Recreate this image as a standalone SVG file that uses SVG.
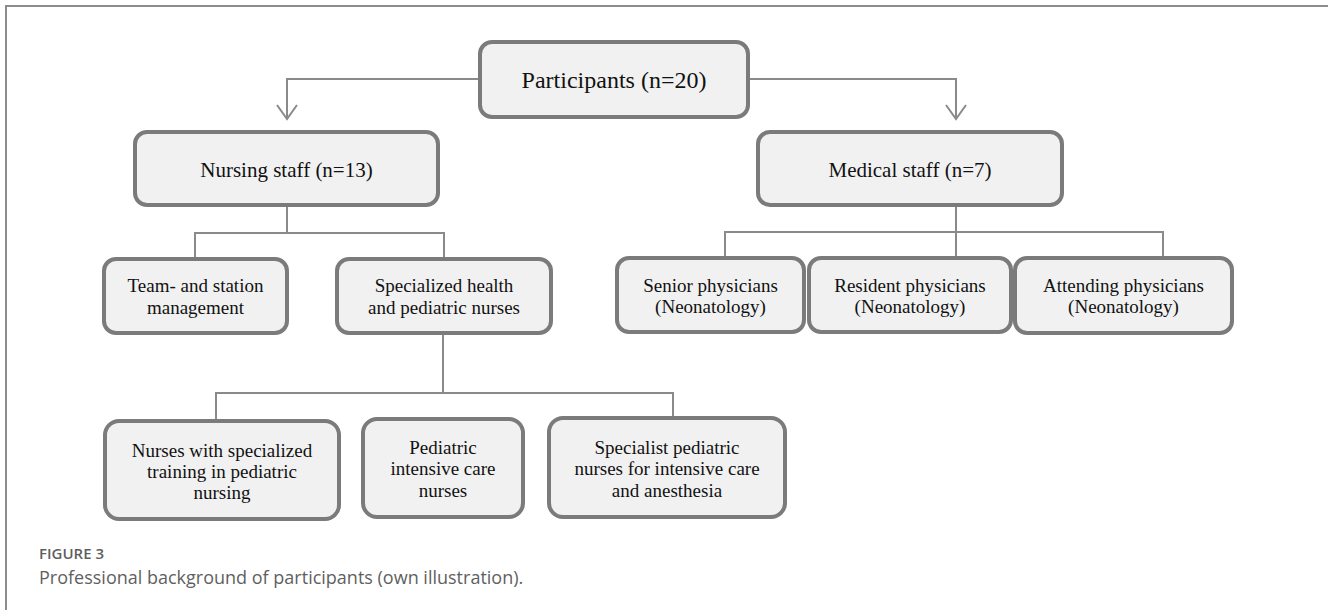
<svg xmlns="http://www.w3.org/2000/svg" width="1328" height="610" viewBox="0 0 1328 610">
<style>
.box{fill:#f1f1f1;stroke:#7b7b7b;stroke-width:4}
.t{font-family:"Liberation Serif","Times New Roman",serif;fill:#111;text-anchor:middle}
.t24{font-size:24px}.t21{font-size:21px}.t19{font-size:19px}
.c{fill:none;stroke:#8a8a8a;stroke-width:2}
.frame{fill:none;stroke:#8c8c8c;stroke-width:2}
.cap{font-family:"Open Sans","Liberation Sans",sans-serif;fill:#5f5f5f}
</style>
<rect x="0" y="0" width="1328" height="610" fill="#fff"/>
<path class="frame" d="M6,610 V6 H1328"/>
<g id="connectors">
<path class="c" d="M480,79 H287 V119 M277,105 L287,119 L297,105"/>
<path class="c" d="M748,79 H956 V119 M946,105 L956,119 L966,105"/>
<path class="c" d="M287,205 V233 M195,259 V233 H444 V259"/>
<path class="c" d="M443,333 V393 M216,421 V393 H673 V418"/>
<path class="c" d="M956,205 V258 M725,258 V232 H1163 V258"/>
</g>
<g id="participants">
<rect class="box" x="480" y="42" width="268" height="75" rx="12"/>
<text class="t t24" x="614" y="88">Participants (n=20)</text>
</g>
<g id="nursing">
<rect class="box" x="135" y="132" width="303" height="73" rx="12"/>
<text class="t t21" x="286.5" y="177">Nursing staff (n=13)</text>
</g>
<g id="medical">
<rect class="box" x="758" y="132" width="304" height="73" rx="12"/>
<text class="t t21" x="910" y="177">Medical staff (n=7)</text>
</g>
<g id="team">
<rect class="box" x="104" y="259" width="183" height="74" rx="12"/>
<text class="t t19" x="195.5" y="292">Team- and station</text>
<text class="t t19" x="195.5" y="314">management</text>
</g>
<g id="specialized">
<rect class="box" x="337" y="259" width="214" height="74" rx="12"/>
<text class="t t19" x="444" y="292">Specialized health</text>
<text class="t t19" x="444" y="314">and pediatric nurses</text>
</g>
<g id="senior">
<rect class="box" x="617" y="258" width="187" height="74" rx="12"/>
<text class="t t19" x="710.5" y="292">Senior physicians</text>
<text class="t t19" x="710.5" y="313">(Neonatology)</text>
</g>
<g id="resident">
<rect class="box" x="809" y="258" width="202" height="74" rx="12"/>
<text class="t t19" x="910" y="292">Resident physicians</text>
<text class="t t19" x="910" y="313">(Neonatology)</text>
</g>
<g id="attending">
<rect class="box" x="1015" y="258" width="217" height="75" rx="12"/>
<text class="t t19" x="1123.5" y="292">Attending physicians</text>
<text class="t t19" x="1123.5" y="313">(Neonatology)</text>
</g>
<g id="nurses-training">
<rect class="box" x="105" y="421" width="234" height="98" rx="14"/>
<text class="t t19" x="222" y="457">Nurses with specialized</text>
<text class="t t19" x="222" y="478">training in pediatric</text>
<text class="t t19" x="222" y="499">nursing</text>
</g>
<g id="picu">
<rect class="box" x="363" y="419" width="160" height="98" rx="14"/>
<text class="t t19" x="443" y="454">Pediatric</text>
<text class="t t19" x="443" y="475">intensive care</text>
<text class="t t19" x="443" y="497">nurses</text>
</g>
<g id="specialist">
<rect class="box" x="549" y="418" width="236" height="99" rx="14"/>
<text class="t t19" x="667" y="454">Specialist pediatric</text>
<text class="t t19" x="667" y="475">nurses for intensive care</text>
<text class="t t19" x="667" y="497">and anesthesia</text>
</g>
<g id="caption">
<text class="cap" x="39" y="559" font-size="15" font-weight="600">FIGURE 3</text>
<text class="cap" x="39" y="584" font-size="18">Professional background of participants (own illustration).</text>
</g>
</svg>
